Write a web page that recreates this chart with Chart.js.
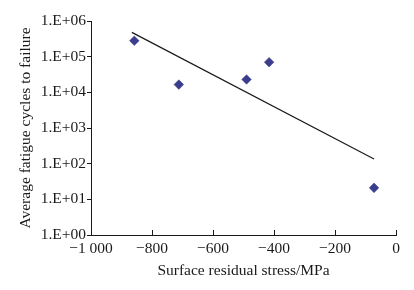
<!DOCTYPE html>
<html>
<head>
<meta charset="utf-8">
<script src="https://cdn.jsdelivr.net/npm/chart.js@4.4.1/dist/chart.umd.min.js"></script>
<style>
  html, body { margin: 0; padding: 0; background: #ffffff; }
  #wrap { width: 414px; height: 290px; }
</style>
</head>
<body>
<div id="wrap"><canvas id="c" width="414" height="290"></canvas></div>
<script>
// ---- data ----
const stress = [-858, -712, -490, -416, -72];          // MPa
const cycles = [2.8e5, 1.65e4, 2.3e4, 7.0e4, 21];      // average fatigue cycles
const trendStress = [-866, -72];
const trendCycles = [4.8e5, 135];
const xTickValues = [-1000, -800, -600, -400, -200, 0];
const xTickLabels = ['\u22121 000', '\u2212800', '\u2212600', '\u2212400', '\u2212200', '0'];
const yTickValues = [1, 10, 100, 1000, 10000, 100000, 1000000];
const yTickLabels = ['1.E+00', '1.E+01', '1.E+02', '1.E+03', '1.E+04', '1.E+05', '1.E+06'];

const FONT = "'Liberation Serif', 'Times New Roman', serif";
const TXT = '#1a1a1a';

// inward tick marks on the x axis
const innerTicks = {
  id: 'innerTicks',
  afterDraw(chart) {
    const xs = chart.scales.x, ctx = chart.ctx;
    const y0 = chart.chartArea.bottom;
    ctx.save();
    ctx.strokeStyle = TXT;
    ctx.lineWidth = 1;
    ctx.beginPath();
    xTickValues.forEach(v => {
      const px = Math.round(xs.getPixelForValue(v)) + 0.5;
      ctx.moveTo(px, y0);
      ctx.lineTo(px, y0 - 5);
    });
    ctx.stroke();
    ctx.restore();
  }
};

new Chart(document.getElementById('c'), {
  type: 'scatter',
  data: {
    datasets: [
      {
        label: 'data',
        data: stress.map((s, i) => ({ x: s, y: cycles[i] })),
        pointStyle: 'rectRot',
        pointRadius: 4.8,
        backgroundColor: '#3a3d8c',
        borderColor: '#3a3d8c',
        borderWidth: 0.5,
        showLine: false,
        order: 1
      },
      {
        label: 'trend',
        type: 'line',
        data: trendStress.map((s, i) => ({ x: s, y: trendCycles[i] })),
        borderColor: '#1a1a1a',
        borderWidth: 1.2,
        pointRadius: 0,
        fill: false,
        order: 2
      }
    ]
  },
  options: {
    responsive: false,
    animation: false,
    events: [],
    layout: { padding: { left: 0, top: 21, right: 18, bottom: 0 } },
    plugins: { legend: { display: false }, tooltip: { enabled: false } },
    scales: {
      x: {
        type: 'linear',
        min: -1000, max: 0,
        afterBuildTicks: s => { s.ticks = xTickValues.map(v => ({ value: v })); },
        afterFit: s => { s.height = 55; },
        grid: { display: true, drawOnChartArea: false, drawTicks: false },
        border: { display: true, color: TXT, width: 1 },
        ticks: {
          color: TXT, padding: 5, maxRotation: 0, autoSkip: false,
          font: { family: FONT, size: 15.5 },
          callback: (v) => xTickLabels[xTickValues.indexOf(v)]
        },
        title: {
          display: true, text: 'Surface residual stress/MPa', color: TXT,
          font: { family: FONT, size: 15.5 },
          padding: { top: 0, bottom: 9.5 }
        }
      },
      y: {
        type: 'logarithmic',
        min: 1, max: 1000000,
        afterBuildTicks: s => { s.ticks = yTickValues.map(v => ({ value: v })); },
        afterFit: s => { s.width = 91; },
        grid: { display: true, drawOnChartArea: false, drawTicks: true, tickLength: 4, color: TXT },
        border: { display: true, color: TXT, width: 1 },
        ticks: {
          color: TXT, padding: 1, autoSkip: false,
          font: { family: FONT, size: 15.5 },
          callback: (v) => yTickLabels[yTickValues.indexOf(v)]
        },
        title: {
          display: true, text: 'Average fatigue cycles to failure', color: TXT,
          font: { family: FONT, size: 15.5 },
          padding: { top: 17, bottom: 0 }
        }
      }
    }
  },
  plugins: [innerTicks]
});
</script>
</body>
</html>
